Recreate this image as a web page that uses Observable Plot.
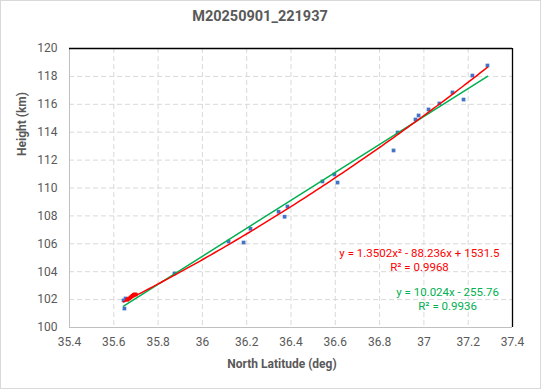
<!DOCTYPE html>
<html><head><meta charset="utf-8">
<script src="https://cdn.jsdelivr.net/npm/d3@7"></script>
<script src="https://cdn.jsdelivr.net/npm/@observablehq/plot@0.6"></script>
<style>
body{margin:0;background:#fff;}
#chart{position:relative;width:541px;height:389px;font-family:"Liberation Sans Narrow","Roboto",sans-serif;}
#frame{position:absolute;left:0;top:0;width:539px;height:387px;border:1px solid #d9d9d9;pointer-events:none;}
#title{position:absolute;top:8px;left:0;width:520px;text-align:center;font-weight:bold;font-size:14.5px;color:#595959;}
#chart svg{position:absolute;left:0;top:0;}
</style></head><body>
<div id="chart"><div id="title">M20250901_221937</div><div id="frame"></div></div>
<script>
// Blue observed points (North latitude deg, height km)
const lat = [35.644, 35.653, 35.648, 35.874, 36.118, 36.186, 36.217, 36.344, 36.371, 36.384,
             36.542, 36.596, 36.610, 36.863, 36.881, 36.962, 36.976, 37.021, 37.070, 37.129,
             37.179, 37.219, 37.287];
const heightKm = [101.94, 102.08, 101.36, 103.87, 106.16, 106.09, 107.08, 108.30, 107.94, 108.67,
                  110.47, 110.97, 110.39, 112.69, 113.98, 114.91, 115.20, 115.63, 116.06, 116.85,
                  116.34, 118.06, 118.78];
// dense cluster rendered red at the start of the track
const redLat = [35.660, 35.665, 35.670, 35.675, 35.680, 35.685, 35.690, 35.695, 35.700];
const redH = [101.98, 102.05, 102.08, 102.15, 102.22, 102.28, 102.35, 102.38, 102.36];
// trendline coefficients shown on the chart
const polyCoef = [1.3502, -88.236, 1531.5];
const linCoef = [10.024, -255.76];
const xTicks = [35.4, 35.6, 35.8, 36, 36.2, 36.4, 36.6, 36.8, 37, 37.2, 37.4];
const yTicks = [100, 102, 104, 106, 108, 110, 112, 114, 116, 118, 120];
const eqText = ["y = 1.3502x² - 88.236x + 1531.5", "R² = 0.9968", "y = 10.024x - 255.76", "R² = 0.9936"];
const eqLat = [36.980, 36.980, 37.107, 37.107];
const eqH = [105.30, 104.30, 102.51, 101.51];
const eqColor = ["#FF0000", "#FF0000", "#00B050", "#00B050"];

const pts = lat.map((x, i) => ({x, y: heightKm[i]}));
const redPts = redLat.map((x, i) => ({x, y: redH[i]}));
const lo = d3.min(lat), hi = d3.max(lat);
const xs = d3.range(101).map(i => lo + (hi - lo) * i / 100);
const poly = xs.map(x => ({x, y: polyCoef[0] * x * x + polyCoef[1] * x + polyCoef[2]}));
const lin = [lo, hi].map(x => ({x, y: linCoef[0] * x + linCoef[1]}));
const eqs = eqText.map((t, i) => ({t, x: eqLat[i], y: eqH[i], c: eqColor[i]}));
const fmt = d => String(+(+d).toFixed(1));

const chart = Plot.plot({
  width: 541, height: 389,
  marginLeft: 69, marginRight: 29, marginTop: 48, marginBottom: 62,
  style: {fontFamily: '"Liberation Sans Narrow", Roboto, sans-serif', background: "transparent"},
  x: {domain: [35.4, 37.4], label: null},
  y: {domain: [100, 120], label: null},
  marks: [
    Plot.gridX(xTicks, {stroke: "#d9d9d9", strokeOpacity: 1, strokeDasharray: "5,3"}),
    Plot.gridY(yTicks, {stroke: "#d9d9d9", strokeOpacity: 1, strokeDasharray: "5,3"}),
    Plot.ruleX([35.4], {stroke: "#bfbfbf"}),
    Plot.ruleY([100], {stroke: "#bfbfbf"}),
    Plot.ruleX([37.4], {stroke: "#000", strokeWidth: 1.3}),
    Plot.ruleY([120], {stroke: "#000", strokeWidth: 1.3}),
    Plot.axisX(xTicks, {tickSize: 0, tickPadding: 10, tickFormat: fmt, fontSize: 12, fill: "#595959", label: null}),
    Plot.axisY(yTicks, {tickSize: 0, tickPadding: 12, fontSize: 12, fill: "#595959", label: null}),
    Plot.dot(pts, {x: "x", y: "y", symbol: "square", r: 2.1, fill: "#4472C4"}),
    Plot.dot(redPts, {x: "x", y: "y", symbol: "square", r: 2, fill: "#FF0000"}),
    Plot.line(lin, {x: "x", y: "y", stroke: "#00B050", strokeWidth: 1.5}),
    Plot.line(poly, {x: "x", y: "y", stroke: "#FF0000", strokeWidth: 1.5}),
    Plot.text(eqs, {x: "x", y: "y", text: "t", fill: "c", fontSize: 11.5}),
    Plot.text(["North Latitude (deg)"], {frameAnchor: "bottom", dy: 40, dx: -9, fontSize: 12, fontWeight: "bold", fill: "#595959"}),
    Plot.text(["Height (km)"], {frameAnchor: "left", dx: -47, dy: -32, rotate: -90, fontSize: 12, fontWeight: "bold", fill: "#595959"})
  ]
});
document.getElementById("chart").appendChild(chart);
</script>
</body></html>
